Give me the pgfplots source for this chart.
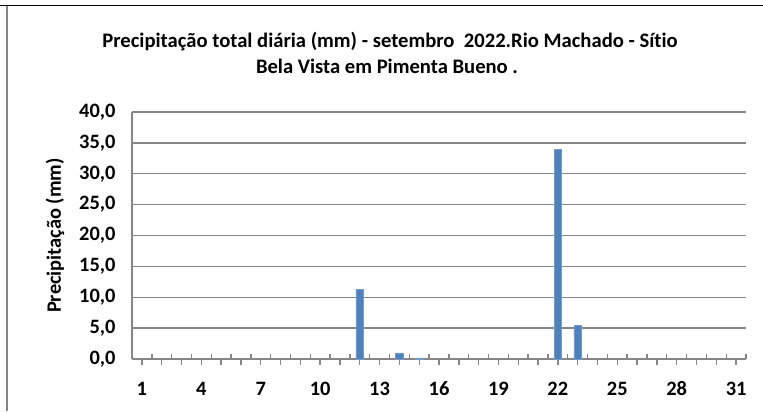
\documentclass[border=0pt]{standalone}
\usepackage{pgfplots}
\pgfplotsset{compat=1.18}
\usepackage{fontspec}
\setmainfont{Carlito}[Ligatures={NoCommon}]
\definecolor{barblue}{HTML}{4F81BD}
\definecolor{gridgray}{HTML}{868686}
\begin{document}
\begin{tikzpicture}[x=1bp,y=1bp]
\path[use as bounding box] (0,0) rectangle (763,411);
\draw[black,line width=1.4bp] (0,405.5) -- (763,405.5);
\draw[gridgray,line width=2bp] (6.5,405) -- (6.5,0);
\node[anchor=base,font=\bfseries\fontsize{20.7}{24}\selectfont] at (390,364) {Precipitação total diária (mm) - setembro\ \ 2022.Rio Machado - Sítio};
\node[anchor=base,font=\bfseries\fontsize{20.7}{24}\selectfont] at (387,338) {Bela Vista em Pimenta Bueno .};
\begin{axis}[
  at={(132bp,52bp)}, anchor=south west,
  scale only axis, width=614bp, height=247bp,
  xmin=0.5, xmax=31.5, ymin=0, ymax=40,
  axis x line*=bottom, axis y line*=left,
  axis line style={gridgray,line width=1.3bp,-},
  ytick={0,5,...,40},
  ymajorgrids, grid style={gridgray,line width=1.3bp},
  xtick={1,...,31},
  xticklabels={1,,,4,,,7,,,10,,,13,,,16,,,19,,,22,,,25,,,28,,,31},
  minor xtick={0.5,1.5,...,31.5},
  x tick style={gridgray,line width=1.4bp},
  xtick align=outside, major tick length=5.5bp, minor tick length=5.5bp,
  minor tick style={yshift=5.5bp},
  ytick style={draw=none},
  ticklabel style={font=\bfseries\fontsize{20.5}{24}\selectfont},
  yticklabel style={/pgf/number format/.cd, fixed, fixed zerofill, precision=1, use comma, assume math mode=true, /tikz/xshift=-13bp},
  xticklabel style={/pgf/number format/assume math mode=true, text height=13bp, text depth=0bp, anchor=north, yshift=-14.5bp},
  ylabel={Precipitação (mm)},
  ylabel style={font=\bfseries\fontsize{20.5}{24}\selectfont, at={(axis description cs:-0.1254,0.5)}, anchor=center},
  ybar, bar width=7.7bp, bar shift=0pt,
]
\addplot[fill=barblue, draw=barblue!80!white, line width=0.5bp] coordinates {
(12,11.3) (14,1.0) (15,0.2) (22,34.0) (23,5.4)
};
\end{axis}
\end{tikzpicture}
\end{document}
